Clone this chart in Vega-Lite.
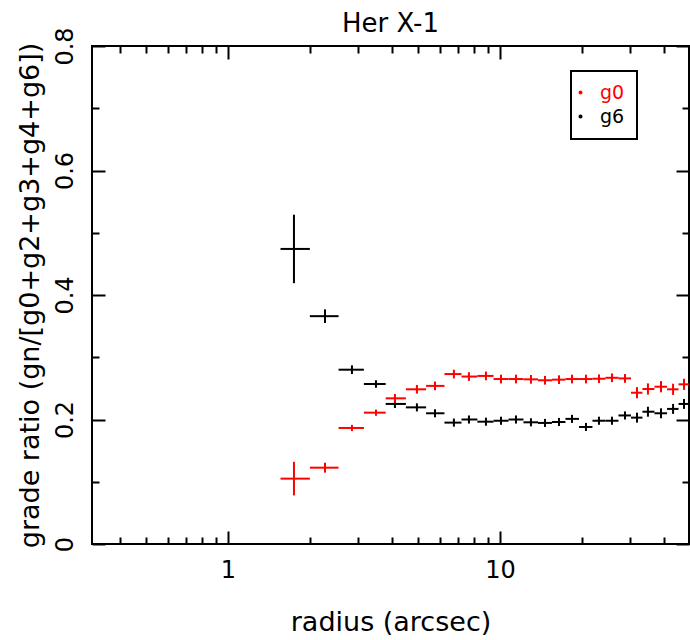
{
  "$schema": "https://vega.github.io/schema/vega-lite/v6.json",
  "width": 597,
  "height": 498,
  "autosize": "none",
  "padding": {"left": 92, "top": 46, "right": 1, "bottom": 96},
  "background": "white",
  "title": {"text": "Her X-1", "fontSize": 26, "font": "DejaVu Sans", "fontWeight": "normal", "offset": -10, "color": "black"},
  "config": {"view": {"stroke": "black", "strokeWidth": 2}, "font": "DejaVu Sans"},
  "data": {"values": [
    {"g": "g6", "lo": 1.56, "r": 1.748, "hi": 2.0, "v": 0.474, "elo": 0.419, "ehi": 0.529},
    {"g": "g6", "lo": 2.0, "r": 2.273, "hi": 2.55, "v": 0.366, "elo": 0.355, "ehi": 0.377},
    {"g": "g6", "lo": 2.55, "r": 2.856, "hi": 3.16, "v": 0.280, "elo": 0.273, "ehi": 0.287},
    {"g": "g6", "lo": 3.16, "r": 3.50, "hi": 3.8, "v": 0.257, "elo": 0.251, "ehi": 0.263},
    {"g": "g6", "lo": 3.8, "r": 4.11, "hi": 4.51, "v": 0.225, "elo": 0.2185, "ehi": 0.2315},
    {"g": "g6", "lo": 4.51, "r": 4.95, "hi": 5.35, "v": 0.2195, "elo": 0.213, "ehi": 0.226},
    {"g": "g6", "lo": 5.35, "r": 5.77, "hi": 6.25, "v": 0.210, "elo": 0.2035, "ehi": 0.2165},
    {"g": "g6", "lo": 6.25, "r": 6.77, "hi": 7.22, "v": 0.195, "elo": 0.1885, "ehi": 0.2015},
    {"g": "g6", "lo": 7.22, "r": 7.69, "hi": 8.26, "v": 0.200, "elo": 0.1935, "ehi": 0.2065},
    {"g": "g6", "lo": 8.26, "r": 8.88, "hi": 9.47, "v": 0.1965, "elo": 0.190, "ehi": 0.203},
    {"g": "g6", "lo": 9.47, "r": 10.09, "hi": 10.75, "v": 0.198, "elo": 0.1915, "ehi": 0.2045},
    {"g": "g6", "lo": 10.75, "r": 11.45, "hi": 12.2, "v": 0.200, "elo": 0.1935, "ehi": 0.2065},
    {"g": "g6", "lo": 12.2, "r": 13.0, "hi": 13.8, "v": 0.1955, "elo": 0.189, "ehi": 0.202},
    {"g": "g6", "lo": 13.8, "r": 14.64, "hi": 15.53, "v": 0.1945, "elo": 0.188, "ehi": 0.201},
    {"g": "g6", "lo": 15.53, "r": 16.48, "hi": 17.41, "v": 0.196, "elo": 0.1895, "ehi": 0.2025},
    {"g": "g6", "lo": 17.41, "r": 18.4, "hi": 19.52, "v": 0.201, "elo": 0.1945, "ehi": 0.2075},
    {"g": "g6", "lo": 19.52, "r": 20.71, "hi": 21.88, "v": 0.188, "elo": 0.1815, "ehi": 0.1945},
    {"g": "g6", "lo": 21.88, "r": 23.12, "hi": 24.43, "v": 0.198, "elo": 0.1915, "ehi": 0.2045},
    {"g": "g6", "lo": 24.43, "r": 25.81, "hi": 27.27, "v": 0.198, "elo": 0.1915, "ehi": 0.2045},
    {"g": "g6", "lo": 27.27, "r": 28.82, "hi": 30.32, "v": 0.2065, "elo": 0.200, "ehi": 0.213},
    {"g": "g6", "lo": 30.32, "r": 31.9, "hi": 33.41, "v": 0.203, "elo": 0.195, "ehi": 0.211},
    {"g": "g6", "lo": 33.41, "r": 35.0, "hi": 36.99, "v": 0.2125, "elo": 0.2045, "ehi": 0.2205},
    {"g": "g6", "lo": 36.99, "r": 39.1, "hi": 41.15, "v": 0.210, "elo": 0.202, "ehi": 0.218},
    {"g": "g6", "lo": 41.15, "r": 43.3, "hi": 45.35, "v": 0.217, "elo": 0.209, "ehi": 0.225},
    {"g": "g6", "lo": 45.35, "r": 47.5, "hi": 49.5, "v": 0.225, "elo": 0.217, "ehi": 0.233},
    {"g": "g0", "lo": 1.56, "r": 1.748, "hi": 2.0, "v": 0.105, "elo": 0.078, "ehi": 0.132},
    {"g": "g0", "lo": 2.0, "r": 2.273, "hi": 2.55, "v": 0.1226, "elo": 0.1146, "ehi": 0.1306},
    {"g": "g0", "lo": 2.55, "r": 2.856, "hi": 3.16, "v": 0.1864, "elo": 0.1814, "ehi": 0.1914},
    {"g": "g0", "lo": 3.16, "r": 3.50, "hi": 3.8, "v": 0.211, "elo": 0.206, "ehi": 0.216},
    {"g": "g0", "lo": 3.8, "r": 4.11, "hi": 4.51, "v": 0.234, "elo": 0.227, "ehi": 0.241},
    {"g": "g0", "lo": 4.51, "r": 4.95, "hi": 5.35, "v": 0.2485, "elo": 0.2415, "ehi": 0.2555},
    {"g": "g0", "lo": 5.35, "r": 5.77, "hi": 6.25, "v": 0.254, "elo": 0.247, "ehi": 0.261},
    {"g": "g0", "lo": 6.25, "r": 6.77, "hi": 7.22, "v": 0.273, "elo": 0.266, "ehi": 0.280},
    {"g": "g0", "lo": 7.22, "r": 7.69, "hi": 8.26, "v": 0.269, "elo": 0.262, "ehi": 0.276},
    {"g": "g0", "lo": 8.26, "r": 8.88, "hi": 9.47, "v": 0.270, "elo": 0.263, "ehi": 0.277},
    {"g": "g0", "lo": 9.47, "r": 10.09, "hi": 10.75, "v": 0.265, "elo": 0.258, "ehi": 0.272},
    {"g": "g0", "lo": 10.75, "r": 11.45, "hi": 12.2, "v": 0.265, "elo": 0.258, "ehi": 0.272},
    {"g": "g0", "lo": 12.2, "r": 13.0, "hi": 13.8, "v": 0.2645, "elo": 0.2575, "ehi": 0.2715},
    {"g": "g0", "lo": 13.8, "r": 14.64, "hi": 15.53, "v": 0.263, "elo": 0.256, "ehi": 0.270},
    {"g": "g0", "lo": 15.53, "r": 16.48, "hi": 17.41, "v": 0.264, "elo": 0.257, "ehi": 0.271},
    {"g": "g0", "lo": 17.41, "r": 18.4, "hi": 19.52, "v": 0.265, "elo": 0.258, "ehi": 0.272},
    {"g": "g0", "lo": 19.52, "r": 20.71, "hi": 21.88, "v": 0.265, "elo": 0.258, "ehi": 0.272},
    {"g": "g0", "lo": 21.88, "r": 23.12, "hi": 24.43, "v": 0.2655, "elo": 0.2585, "ehi": 0.2725},
    {"g": "g0", "lo": 24.43, "r": 25.81, "hi": 27.27, "v": 0.267, "elo": 0.260, "ehi": 0.274},
    {"g": "g0", "lo": 27.27, "r": 28.82, "hi": 30.32, "v": 0.266, "elo": 0.259, "ehi": 0.273},
    {"g": "g0", "lo": 30.32, "r": 31.9, "hi": 33.41, "v": 0.243, "elo": 0.234, "ehi": 0.252},
    {"g": "g0", "lo": 33.41, "r": 35.0, "hi": 36.99, "v": 0.249, "elo": 0.240, "ehi": 0.258},
    {"g": "g0", "lo": 36.99, "r": 39.1, "hi": 41.15, "v": 0.2527, "elo": 0.2437, "ehi": 0.2617},
    {"g": "g0", "lo": 41.15, "r": 43.3, "hi": 45.35, "v": 0.2485, "elo": 0.2395, "ehi": 0.2575},
    {"g": "g0", "lo": 45.35, "r": 47.5, "hi": 49.5, "v": 0.2565, "elo": 0.2475, "ehi": 0.2655}
  ]},
  "layer": [
    {
      "mark": {"type": "rule", "strokeWidth": 2},
      "encoding": {
        "x": {
          "field": "lo", "type": "quantitative",
          "scale": {"type": "log", "domain": [0.3162, 49.55], "nice": false},
          "axis": {
            "orient": "bottom",
            "values": [0.4, 0.5, 0.6, 0.7, 0.8, 0.9, 1, 2, 3, 4, 5, 6, 7, 8, 9, 10, 20, 30, 40],
            "domain": false, "grid": false,
            "tickColor": "black", "tickWidth": 2,
            "tickSize": {"condition": {"test": "datum.value == 1 || datum.value == 10", "value": -13}, "value": -7},
            "labelExpr": "(datum.value == 1 || datum.value == 10) ? format(datum.value, 'd') : ''",
            "labelOverlap": false, "labelFlush": false,
            "labelFontSize": 24, "labelFont": "DejaVu Sans", "labelColor": "black", "labelPadding": 27,
            "title": "radius (arcsec)", "titleFontSize": 27, "titleFont": "DejaVu Sans", "titleFontWeight": "normal", "titleColor": "black", "titlePadding": 21
          }
        },
        "x2": {"field": "hi"},
        "y": {
          "field": "v", "type": "quantitative",
          "scale": {"domain": [0, 0.8], "nice": false, "zero": false},
          "axis": {
            "orient": "left",
            "values": [0, 0.1, 0.2, 0.3, 0.4, 0.5, 0.6, 0.7, 0.8],
            "domain": false, "grid": false,
            "tickColor": "black", "tickWidth": 2,
            "tickSize": {"condition": {"test": "round(datum.value * 10) % 2 == 0", "value": -13}, "value": -7},
            "labelExpr": "round(datum.value * 10) % 2 == 0 ? format(datum.value, '~g') : ''",
            "labelOverlap": false, "labelFlush": false, "labelAngle": -90,
            "labelFontSize": 24, "labelFont": "DejaVu Sans", "labelColor": "black", "labelPadding": 28,
            "title": "grade ratio (gn/[g0+g2+g3+g4+g6])", "titleFontSize": 27, "titleFont": "DejaVu Sans", "titleFontWeight": "normal", "titleColor": "black", "titlePadding": 3
          }
        },
        "color": {
          "field": "g", "type": "nominal",
          "scale": {"domain": ["g0", "g6"], "range": ["#ff0000", "#000000"]},
          "legend": {
            "orient": "none", "legendX": 479, "legendY": 25,
            "title": null, "strokeColor": "black", "padding": 12,
            "symbolType": "circle", "symbolSize": 4, "symbolStrokeWidth": 2, "symbolOffset": -12,
            "labelFontSize": 19, "labelFont": "DejaVu Sans", "labelOffset": 10, "rowPadding": 4,
            "encode": {
              "legend": {"update": {"strokeWidth": {"value": 2}}},
              "labels": {"update": {"fill": {"signal": "datum.label == 'g0' ? '#ff0000' : '#000000'"}}}
            }
          }
        }
      }
    },
    {
      "mark": {"type": "rule", "strokeWidth": 2},
      "encoding": {
        "x": {
          "field": "r", "type": "quantitative",
          "axis": {
            "orient": "top", "minExtent": 0, "maxExtent": 0,
            "values": [0.4, 0.5, 0.6, 0.7, 0.8, 0.9, 1, 2, 3, 4, 5, 6, 7, 8, 9, 10, 20, 30, 40],
            "domain": false, "grid": false, "labels": false, "title": null,
            "tickColor": "black", "tickWidth": 2,
            "tickSize": {"condition": {"test": "datum.value == 1 || datum.value == 10", "value": -13}, "value": -7}
          }
        },
        "y": {
          "field": "elo", "type": "quantitative",
          "axis": {
            "orient": "right", "minExtent": 0, "maxExtent": 0,
            "values": [0, 0.1, 0.2, 0.3, 0.4, 0.5, 0.6, 0.7, 0.8],
            "domain": false, "grid": false, "labels": false, "title": null,
            "tickColor": "black", "tickWidth": 2,
            "tickSize": {"condition": {"test": "round(datum.value * 10) % 2 == 0", "value": -13}, "value": -7}
          }
        },
        "y2": {"field": "ehi"},
        "color": {"field": "g", "type": "nominal"}
      }
    }
  ],
  "resolve": {"axis": {"x": "independent", "y": "independent"}}
}
